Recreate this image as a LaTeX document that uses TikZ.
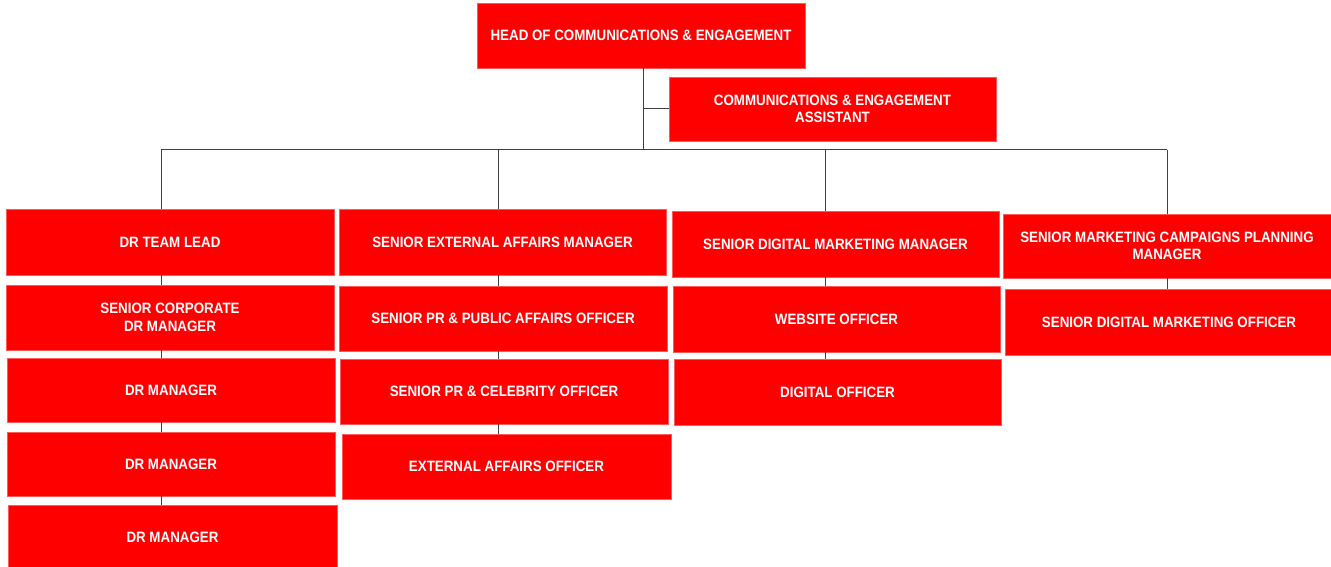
\documentclass[tikz,border=0pt]{standalone}
\usepackage{fontspec}
\setmainfont{Liberation Sans}[FakeStretch=0.89]
\definecolor{boxred}{RGB}{255,0,0}
\definecolor{boxedge}{RGB}{255,90,90}
\definecolor{lineclr}{RGB}{64,64,64}
\tikzset{
  box/.style={fill=boxred, draw=boxedge, line width=0.7pt, text=white, align=center,
    inner sep=0pt, outer sep=0pt,
    font=\bfseries\fontsize{15}{17.5}\selectfont},
  conn/.style={draw=lineclr, line width=1pt}
}
\begin{document}
\begin{tikzpicture}[x=1pt,y=-1pt]
\useasboundingbox (0,0) rectangle (1331,567);
% top
\node[box, minimum width=328pt, minimum height=65pt] (head) at (641,35.5) {HEAD OF COMMUNICATIONS \& ENGAGEMENT};
\node[box, minimum width=327pt, minimum height=64pt] (asst) at (832.5,109) {COMMUNICATIONS \& ENGAGEMENT\\ASSISTANT};
% column 1
\node[box, minimum width=328pt, minimum height=66pt] (dtl) at (170,242) {DR TEAM LEAD};
\node[box, minimum width=328pt, minimum height=65pt] (scdr) at (170,317.5) {SENIOR CORPORATE\\DR MANAGER};
\node[box, minimum width=328pt, minimum height=64pt] (dra) at (171,390) {DR MANAGER};
\node[box, minimum width=328pt, minimum height=64pt] (drb) at (171,464) {DR MANAGER};
\node[box, minimum width=329pt, minimum height=64pt] (drc) at (172.5,537) {DR MANAGER};
% column 2
\node[box, minimum width=327pt, minimum height=66pt] (seam) at (502.5,242) {SENIOR EXTERNAL AFFAIRS MANAGER};
\node[box, minimum width=328pt, minimum height=65pt] (sprp) at (503,318.5) {SENIOR PR \& PUBLIC AFFAIRS OFFICER};
\node[box, minimum width=328pt, minimum height=65pt] (sprc) at (504,391.5) {SENIOR PR \& CELEBRITY OFFICER};
\node[box, minimum width=329pt, minimum height=65pt] (eao) at (506.5,466.5) {EXTERNAL AFFAIRS OFFICER};
% column 3
\node[box, minimum width=327pt, minimum height=66pt] (sdmm) at (835.5,244) {SENIOR DIGITAL MARKETING MANAGER};
\node[box, minimum width=327pt, minimum height=66pt] (web) at (836.5,319) {WEBSITE OFFICER};
\node[box, minimum width=327pt, minimum height=66pt] (dig) at (837.5,392) {DIGITAL OFFICER};
% column 4
\node[box, minimum width=328pt, minimum height=64pt] (smcp) at (1167,246) {SENIOR MARKETING CAMPAIGNS PLANNING\\MANAGER};
\node[box, minimum width=328pt, minimum height=66pt] (sdmo) at (1169,322) {SENIOR DIGITAL MARKETING OFFICER};
% connector coordinates
\coordinate (trunk) at (643,150);
\coordinate (k1) at (161,150);
\coordinate (k2) at (498,150);
\coordinate (k3) at (825,150);
\coordinate (k4) at (1167,150);
% top connectors
\draw[conn] (head.south -| trunk) -- (trunk);
\draw[conn] (asst.west -| trunk) -- (asst.west);
\draw[conn] (k1) -- (k4);
% column 1
\draw[conn] (k1) -- (k1 |- dtl.north);
\draw[conn] (k1 |- dtl.south) -- (k1 |- scdr.north);
\draw[conn] (k1 |- scdr.south) -- (k1 |- dra.north);
\draw[conn] (k1 |- dra.south) -- (k1 |- drb.north);
\draw[conn] (k1 |- drb.south) -- (k1 |- drc.north);
% column 2
\draw[conn] (k2) -- (k2 |- seam.north);
\draw[conn] (k2 |- seam.south) -- (k2 |- sprp.north);
\draw[conn] (k2 |- sprp.south) -- (k2 |- sprc.north);
\draw[conn] (k2 |- sprc.south) -- (k2 |- eao.north);
% column 3
\draw[conn] (k3) -- (k3 |- sdmm.north);
\draw[conn] (k3 |- sdmm.south) -- (k3 |- web.north);
\draw[conn] (k3 |- web.south) -- (k3 |- dig.north);
% column 4
\draw[conn] (k4) -- (k4 |- smcp.north);
\draw[conn] (k4 |- smcp.south) -- (k4 |- sdmo.north);
\end{tikzpicture}
\end{document}
